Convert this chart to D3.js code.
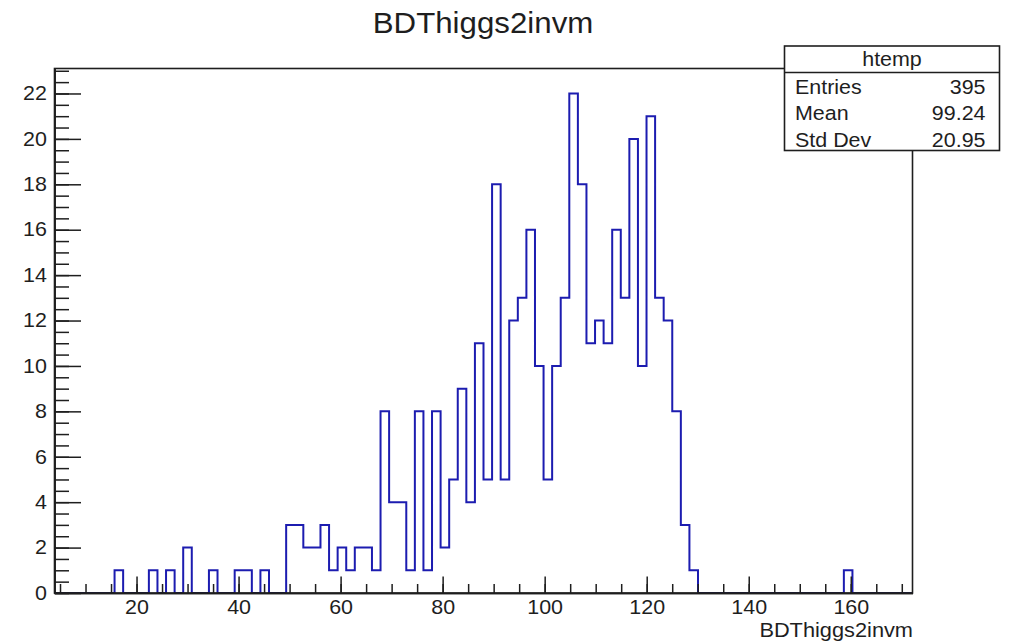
<!DOCTYPE html>
<html>
<head>
<meta charset="utf-8">
<script src="https://cdn.jsdelivr.net/npm/d3@7"></script>
<style>
  body { margin: 0; background: #fff; }
  svg text { font-family: "Liberation Sans", Arial, Helvetica, sans-serif; fill: #1e1e1e; }
</style>
</head>
<body>
<svg id="chart" width="1012" height="644"></svg>
<script>
const histTitle = "BDThiggs2invm";
const xLabel = "BDThiggs2invm";

// histogram range and 100 bin contents
const xMin = 3.92;
const xMax = 172.1;
const binCounts = [
  0, 0, 0, 0, 0, 0, 0, 1, 0, 0,
  0, 1, 0, 1, 0, 2, 0, 0, 1, 0,
  0, 1, 1, 0, 1, 0, 0, 3, 3, 2,
  2, 3, 1, 2, 1, 2, 2, 1, 8, 4,
  4, 1, 8, 1, 8, 2, 5, 9, 4, 11,
  5, 18, 5, 12, 13, 16, 10, 5, 10, 13,
  22, 18, 11, 12, 11, 16, 13, 20, 10, 21,
  13, 12, 8, 3, 1, 0, 0, 0, 0, 0,
  0, 0, 0, 0, 0, 0, 0, 0, 0, 0,
  0, 0, 1, 0, 0, 0, 0, 0, 0, 0
];

const xMajorTicks = [20, 40, 60, 80, 100, 120, 140, 160];
const yMajorTicks = [0, 2, 4, 6, 8, 10, 12, 14, 16, 18, 20, 22];

const statsName = "htemp";
const statsLabels = ["Entries", "Mean", "Std Dev"];
const statsValues = ["395", "99.24", "20.95"];

const frame = {left: 54.5, right: 912.5, top: 68.5, bottom: 593};
const sx = 1.1; // the picture is slightly stretched horizontally

let svg = d3.select("#chart");

let binWidth = (xMax - xMin) / binCounts.length;
let yMax = d3.max(binCounts) * 1.05;

let x_scale = d3.scaleLinear()
  .domain([xMin, xMax])
  .range([frame.left, frame.right]);

let y_scale = d3.scaleLinear()
  .domain([0, yMax])
  .range([frame.bottom, frame.top]);

// histogram outline
let points = binCounts.map(function(c, i) { return [xMin + i * binWidth, c]; });
points.push([xMax, 0]);

let draw_line = d3.line()
  .curve(d3.curveStepAfter)
  .x(function(d) { return x_scale(d[0]); })
  .y(function(d) { return y_scale(d[1]); });

svg.append("path")
  .datum(points)
  .attr("d", draw_line)
  .attr("fill", "none")
  .attr("stroke", "#1c1cb0")
  .attr("stroke-width", 2);

// frame
svg.append("rect")
  .attr("x", frame.left)
  .attr("y", frame.top)
  .attr("width", frame.right - frame.left)
  .attr("height", frame.bottom - frame.top)
  .attr("fill", "none")
  .attr("stroke", "#1e1e1e")
  .attr("stroke-width", 1.6);

function styleAxis(g) {
  g.select(".domain").attr("stroke", "#1e1e1e").attr("stroke-width", 1.6);
  g.selectAll(".tick line").attr("stroke", "#1e1e1e").attr("stroke-width", 1.5);
  g.selectAll(".tick text")
    .attr("fill", "#1e1e1e")
    .style("font-size", "19.5px")
    .attr("transform", "scale(" + sx + ",1)");
}

// x axis: minor then major ticks, pointing into the frame
svg.append("g")
  .attr("transform", "translate(0," + frame.bottom + ")")
  .call(d3.axisBottom(x_scale).tickValues(d3.range(5, 171, 5)).tickSize(-9).tickSizeOuter(0).tickFormat(""))
  .call(styleAxis);

svg.append("g")
  .attr("transform", "translate(0," + frame.bottom + ")")
  .call(d3.axisBottom(x_scale).tickValues(xMajorTicks).tickSize(-16.5).tickSizeOuter(0).tickPadding(7).tickFormat(d3.format("d")))
  .call(styleAxis);

// y axis
svg.append("g")
  .attr("transform", "translate(" + frame.left + ",0)")
  .call(d3.axisLeft(y_scale).tickValues(d3.range(0, yMax, 0.5)).tickSize(-14.5).tickSizeOuter(0).tickFormat(""))
  .call(styleAxis);

svg.append("g")
  .attr("transform", "translate(" + frame.left + ",0)")
  .call(d3.axisLeft(y_scale).tickValues(yMajorTicks).tickSize(-26.5).tickSizeOuter(0).tickPadding(7).tickFormat(d3.format("d")))
  .call(styleAxis);

svg.selectAll(".tick text").attr("font-family", null);

// title
svg.append("text")
  .attr("transform", "translate(483,33) scale(1.06,1)")
  .attr("text-anchor", "middle")
  .style("font-size", "29.5px")
  .text(histTitle);

// x axis title
svg.append("text")
  .attr("transform", "translate(913,636.5) scale(" + sx + ",1)")
  .attr("text-anchor", "end")
  .style("font-size", "19.8px")
  .text(xLabel);

// stats box
let box = {x: 784.5, y: 46, w: 215, h: 104.5, head: 26.5};

svg.append("rect")
  .attr("x", box.x)
  .attr("y", box.y)
  .attr("width", box.w)
  .attr("height", box.h)
  .attr("fill", "#fff")
  .attr("stroke", "#1e1e1e")
  .attr("stroke-width", 1.6);

svg.append("line")
  .attr("x1", box.x)
  .attr("x2", box.x + box.w)
  .attr("y1", box.y + box.head)
  .attr("y2", box.y + box.head)
  .attr("stroke", "#1e1e1e")
  .attr("stroke-width", 1.6);

svg.append("text")
  .attr("transform", "translate(" + (box.x + box.w / 2) + "," + (box.y + 19.5) + ") scale(" + sx + ",1)")
  .attr("text-anchor", "middle")
  .style("font-size", "19.5px")
  .text(statsName);

statsLabels.forEach(function(label, i) {
  let baseline = box.y + box.head + 21 + i * 26.7;
  svg.append("text")
    .attr("transform", "translate(" + (box.x + 10.5) + "," + baseline + ") scale(" + sx + ",1)")
    .style("font-size", "19.5px")
    .text(label);
  svg.append("text")
    .attr("transform", "translate(" + (box.x + box.w - 14) + "," + baseline + ") scale(" + sx + ",1)")
    .attr("text-anchor", "end")
    .style("font-size", "19.5px")
    .text(statsValues[i]);
});
</script>
</body>
</html>
